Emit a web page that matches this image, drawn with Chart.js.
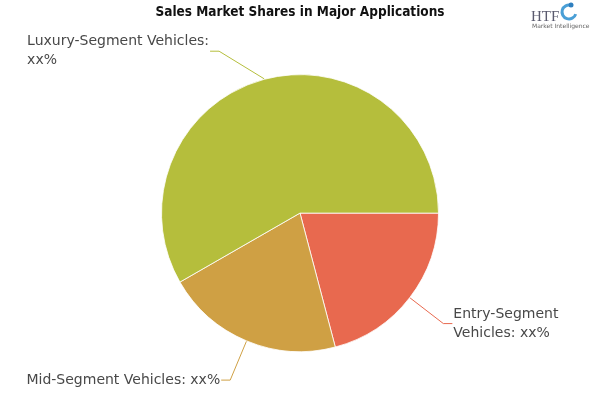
<!DOCTYPE html>
<html>
<head>
<meta charset="utf-8">
<script src="https://cdn.jsdelivr.net/npm/chart.js@4.4.0/dist/chart.umd.min.js"></script>
<style>
  html, body { margin: 0; padding: 0; background: #fff; }
  #wrap { width: 600px; height: 400px; }
</style>
</head>
<body>
<div id="wrap"><canvas id="chartShares"></canvas></div>
<script>
// datos del gráfico
const categories = ['Entry-Segment Vehicles', 'Mid-Segment Vehicles', 'Luxury-Segment Vehicles'];
const shares = [20.9, 20.8, 58.3];
const shareLabels = ['xx%', 'xx%', 'xx%'];
const sliceColors = ['#E8694F', '#CFA044', '#B5BE3C'];
const titleText = 'Sales Market Shares in Major Applications';

// etiquetas externas con líneas guía
const outsideLabels = {
    id: 'outsideLabels',
    afterDatasetsDraw(chart) {
        const ctx = chart.ctx;
        const meta = chart.getDatasetMeta(0);
        const lineH = 19;
        ctx.save();
        ctx.font = '14px "DejaVu Sans"';
        ctx.textBaseline = 'middle';
        ctx.textAlign = 'left';
        meta.data.forEach((arc, i) => {
            const p = arc.getProps(['x', 'y', 'startAngle', 'endAngle', 'outerRadius'], true);
            const mid = (p.startAngle + p.endAngle) / 2;
            const cos = Math.cos(mid), sin = Math.sin(mid);
            const r = p.outerRadius + 0.5;
            const R = r + 42;
            const ex = p.x + cos * r, ey = p.y + sin * r;
            let ly = p.y + sin * R;
            ly = Math.max(ly, chart.chartArea.top - 23);
            const dy = ly - p.y;
            const dx = Math.sqrt(Math.max(R * R - dy * dy, 0));
            const right = cos >= 0;
            const lx = right ? p.x + dx : p.x - dx;
            const tx = right ? lx + 9 : lx - 9;

            ctx.strokeStyle = sliceColors[i];
            ctx.lineWidth = 1;
            ctx.beginPath();
            ctx.moveTo(ex, ey);
            ctx.lineTo(lx, ly);
            ctx.lineTo(tx, ly);
            ctx.stroke();

            // partir el texto según el espacio disponible
            const full = categories[i] + ': ' + shareLabels[i];
            const maxW = right ? chart.width - 20 - tx : tx - 20;
            const words = full.split(' ');
            const lines = [];
            let cur = '';
            words.forEach(w => {
                const test = cur ? cur + ' ' + w : w;
                if (cur && ctx.measureText(test).width > maxW) {
                    lines.push(cur);
                    cur = w;
                } else {
                    cur = test;
                }
            });
            if (cur) lines.push(cur);

            const blockW = Math.max(...lines.map(t => ctx.measureText(t).width));
            const left = right ? tx + 1 : tx - 1 - blockW;
            ctx.fillStyle = '#484848';
            const startY = ly - (lines.length - 1) * lineH / 2;
            lines.forEach((t, k) => {
                ctx.fillText(t, left, startY + k * lineH);
            });
        });
        ctx.restore();
    }
};

// logo pequeño arriba a la derecha
const logoPlugin = {
    id: 'logoPlugin',
    afterDraw(chart) {
        const ctx = chart.ctx;
        ctx.save();
        ctx.fillStyle = '#5a5a6e';
        ctx.font = '15px "Liberation Serif"';
        ctx.textAlign = 'left';
        ctx.textBaseline = 'alphabetic';
        ctx.fillText('HTF', 531, 21);
        ctx.strokeStyle = '#4a9fd6';
        ctx.lineWidth = 3;
        ctx.beginPath();
        ctx.arc(569, 12, 7, 0.3, Math.PI * 1.6);
        ctx.stroke();
        ctx.fillStyle = '#2f7fbf';
        ctx.beginPath();
        ctx.arc(571, 5, 2.5, 0, Math.PI * 2);
        ctx.fill();
        ctx.fillStyle = '#666';
        ctx.font = '6px "DejaVu Sans"';
        ctx.fillText('Market Intelligence', 532, 28);
        ctx.restore();
    }
};

const ctxShares = document.getElementById('chartShares').getContext('2d');
new Chart(ctxShares, {
    type: 'pie',
    data: {
        labels: categories,
        datasets: [{
            data: shares,
            backgroundColor: sliceColors,
            borderColor: '#ffffff',
            borderWidth: 0.8
        }]
    },
    options: {
        responsive: true,
        maintainAspectRatio: false,
        animation: false,
        rotation: 90,
        events: [],
        layout: { padding: { top: 0, bottom: 48, left: 0, right: 0 } },
        plugins: {
            legend: { display: false },
            tooltip: { enabled: false },
            title: {
                display: true,
                text: titleText,
                color: '#111111',
                font: { family: '"DejaVu Sans Condensed", "DejaVu Sans"', weight: 'bold', size: 13.5 },
                padding: { top: 4, bottom: 54 }
            }
        }
    },
    plugins: [outsideLabels, logoPlugin]
});
</script>
</body>
</html>
